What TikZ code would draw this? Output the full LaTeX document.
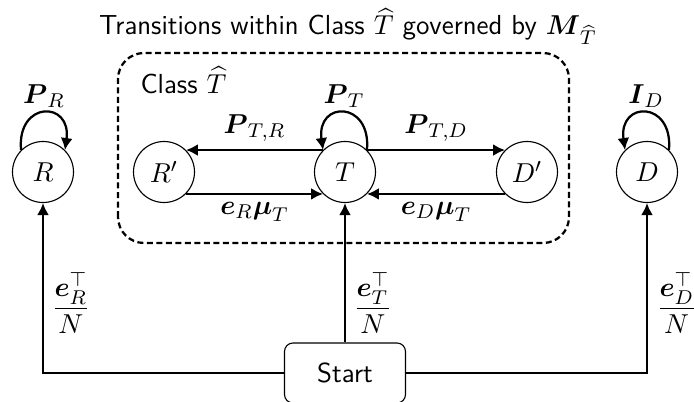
\documentclass[tikz,border=0pt]{standalone}
\usepackage{amsmath,amssymb}
\usetikzlibrary{arrows.meta}
\begin{document}
\begin{tikzpicture}[x=0.4pt,y=0.4pt,
  state/.style={circle,draw,line width=0.45pt,minimum size=24.4pt,inner sep=0pt},
  conn/.style={line width=0.9pt,-{Latex[length=4.8pt,width=4.8pt]}},
  lbl/.style={inner sep=0pt},
  classbox/.style={line width=0.9pt,dash pattern=on 2.4pt off 1.4pt,rounded corners=10.4pt},
  startbox/.style={draw,line width=0.45pt,rounded corners=3.4pt,minimum width=48.4pt,minimum height=24pt,inner sep=0pt},
  font=\fontsize{11}{13.2}\selectfont\sffamily]
\useasboundingbox (0,0) rectangle (694,401);
% title and class box
\node[lbl,anchor=base] (title) at (348,366) {Transitions within Class $\widehat{T}$ governed by $\boldsymbol{M}_{\widehat{T}}$};
\draw[classbox] (118,158) rectangle (569,348);
\node[lbl,anchor=base west] (classlbl) at (140,308) {Class $\widehat{T}$};
% states
\node[state] (R)  at (43,229)  {$R$};
\node[state] (Rp) at (164,229) {$R'$};
\node[state] (T)  at (345,229) {$T$};
\node[state] (Dp) at (527,229) {$D'$};
\node[state] (D)  at (647,229) {$D$};
\node[startbox] (start) at (345,28) {Start};
% self loops
\draw[conn] (R.135) to[out=95,in=82,distance=20pt] node[lbl,above=1.5pt] {$\boldsymbol{P}_R$} (R.45);
\draw[conn] (T.45) to[out=85,in=98,distance=20pt] node[lbl,above=1.5pt] {$\boldsymbol{P}_T$} (T.135);
\draw[conn] (D.45) to[out=85,in=98,distance=20pt] node[lbl,above=1.5pt] {$\boldsymbol{I}_D$} (D.135);
% transitions inside the class
\draw[conn] (T.135) -- node[lbl,above=3pt] {$\boldsymbol{P}_{T,R}$} (Rp.45);
\draw[conn] (Rp.-45) -- node[lbl,below=3pt] {$\boldsymbol{e}_R\boldsymbol{\mu}_T$} (T.-135);
\draw[conn] (T.45) -- node[lbl,above=3pt] {$\boldsymbol{P}_{T,D}$} (Dp.135);
\draw[conn] (Dp.-135) -- node[lbl,below=3pt] {$\boldsymbol{e}_D\boldsymbol{\mu}_T$} (T.-45);
% start connectors
\draw[conn] (start.west) -| (R.south);
\draw[conn] (start.north) -- (T.south);
\draw[conn] (start.east) -| (D.south);
\node[lbl,anchor=west] (lR) at (51,98) {$\dfrac{\boldsymbol{e}_R^\top}{N}$};
\node[lbl,anchor=west] (lT) at (353,98) {$\dfrac{\boldsymbol{e}_T^\top}{N}$};
\node[lbl,anchor=west] (lD) at (656,98) {$\dfrac{\boldsymbol{e}_D^\top}{N}$};
\end{tikzpicture}
\end{document}
